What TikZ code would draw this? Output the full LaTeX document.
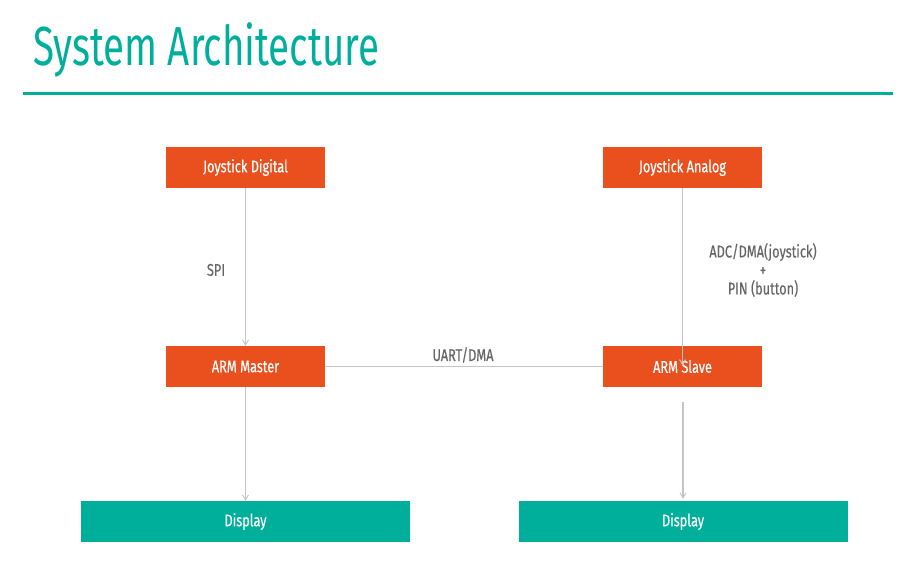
\documentclass[tikz,border=0pt]{standalone}
\usepackage{fontspec}
\setmainfont{Fira Sans}[FakeStretch=0.75, FakeBold=0.4]
\newfontfamily\headfont{Fira Sans}[FakeStretch=0.70]
\usepackage{tikz}
\usetikzlibrary{arrows.meta, positioning, calc}
\definecolor{SlideTeal}{HTML}{00AE9C}
\definecolor{BlockOrange}{HTML}{E9501D}
\definecolor{WireGray}{HTML}{C6C6C6}
\definecolor{NoteGray}{HTML}{666666}

\tikzset{
  block/.style={fill=BlockOrange, text=white, minimum width=159pt, minimum height=41pt,
                inner sep=0pt, font=\fontsize{17}{17}\selectfont},
  dispbox/.style={block, fill=SlideTeal, minimum width=329pt},
  wire/.style={draw=WireGray, line width=1.4pt},
  arrowwire/.style={wire, -{Straight Barb[length=5pt, width=6pt, line width=1pt]}},
  note/.style={text=NoteGray, font=\fontsize{17}{18.5}\selectfont, align=center}
}

\begin{document}
\begin{tikzpicture}[x=1pt, y=-1pt]
\useasboundingbox (0,0) rectangle (915,581);

% heading
\node[anchor=base west, inner sep=0pt, text=SlideTeal, font=\headfont\fontsize{55}{55}\selectfont]
  (title) at (33,65) {System Architecture};
\draw[SlideTeal, line width=3pt] (23,93) -- (893,93);

% blocks
\node[block] (jdig) at (245.5,167.5) {Joystick Digital};
\node[block] (jana) at (682.5,167.5) {Joystick Analog};
\node[block] (master) at (245.5,366.5) {ARM Master};
\node[block] (slave) at (682.5,366.5) {ARM Slave};
\node[dispbox] (dispL) at (245.5,521.5) {Display};
\node[dispbox] (dispR) at (683,521.5) {Display};

% links
\draw[arrowwire] (jdig.south) -- (master.north);
\node[note] (spi) at (216,270) {SPI};

\draw[wire] (master.east) -- (slave.west);
\node[note] (uart) at (463,355) {UART/DMA};

\draw[arrowwire] (jana.south) -- ([yshift=1pt]slave.center);
\node[note] (adc) at (763,270) {ADC/DMA(joystick)\\+\\PIN (button)};

\draw[arrowwire] (master.south) -- (dispL.north);
\coordinate (slvout) at (683,402);
\draw[arrowwire] (slvout) -- ([yshift=2pt]dispR.north);
\end{tikzpicture}
\end{document}
